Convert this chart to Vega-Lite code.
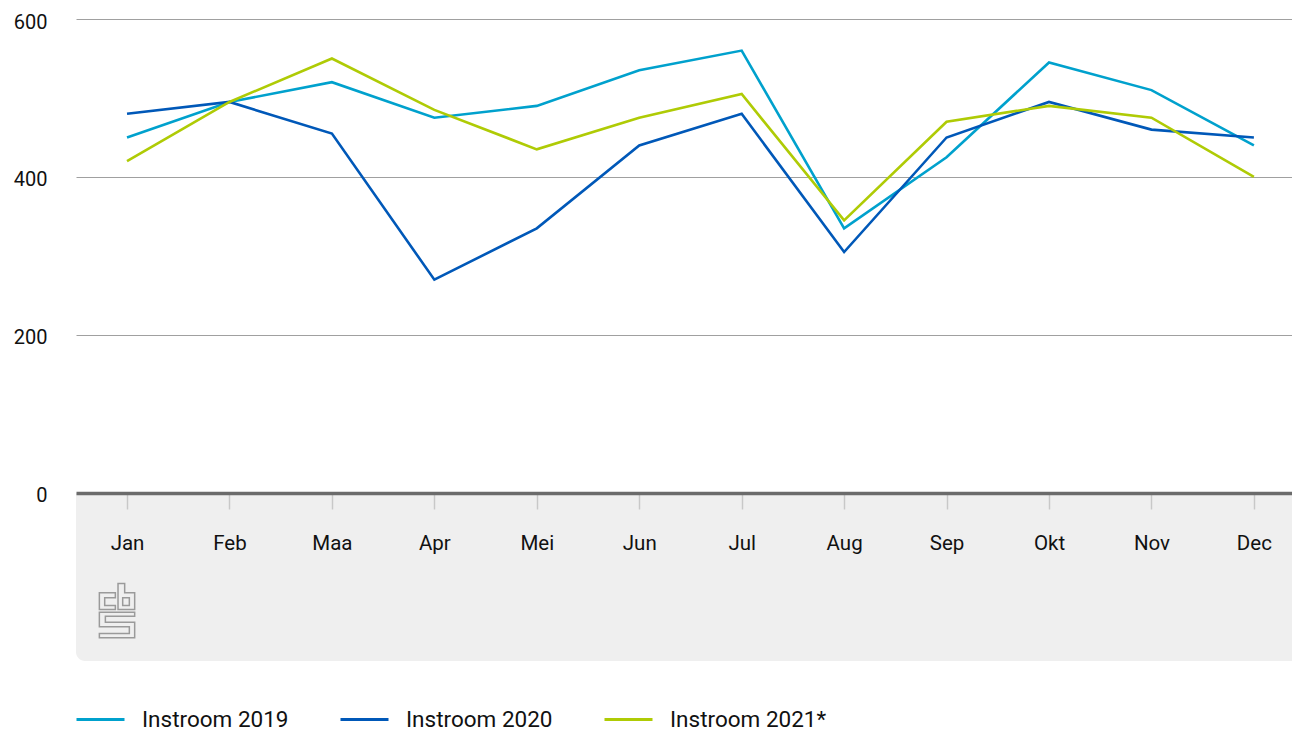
{
  "$schema": "https://vega.github.io/schema/vega-lite/v6.json",
  "width": 1216,
  "height": 642,
  "autosize": {"type": "none"},
  "padding": {"left": 76, "top": 19, "right": 0, "bottom": 71},
  "background": "white",
  "config": {
    "view": {"stroke": null},
    "font": "Roboto"
  },
  "datasets": {
    "instroom": [
      {"nr": 0, "maand": "Jan", "reeks": "Instroom 2019", "waarde": 450},
      {"nr": 1, "maand": "Feb", "reeks": "Instroom 2019", "waarde": 495},
      {"nr": 2, "maand": "Maa", "reeks": "Instroom 2019", "waarde": 520},
      {"nr": 3, "maand": "Apr", "reeks": "Instroom 2019", "waarde": 475},
      {"nr": 4, "maand": "Mei", "reeks": "Instroom 2019", "waarde": 490},
      {"nr": 5, "maand": "Jun", "reeks": "Instroom 2019", "waarde": 535},
      {"nr": 6, "maand": "Jul", "reeks": "Instroom 2019", "waarde": 560},
      {"nr": 7, "maand": "Aug", "reeks": "Instroom 2019", "waarde": 335},
      {"nr": 8, "maand": "Sep", "reeks": "Instroom 2019", "waarde": 425},
      {"nr": 9, "maand": "Okt", "reeks": "Instroom 2019", "waarde": 545},
      {"nr": 10, "maand": "Nov", "reeks": "Instroom 2019", "waarde": 510},
      {"nr": 11, "maand": "Dec", "reeks": "Instroom 2019", "waarde": 440},
      {"nr": 0, "maand": "Jan", "reeks": "Instroom 2020", "waarde": 480},
      {"nr": 1, "maand": "Feb", "reeks": "Instroom 2020", "waarde": 495},
      {"nr": 2, "maand": "Maa", "reeks": "Instroom 2020", "waarde": 455},
      {"nr": 3, "maand": "Apr", "reeks": "Instroom 2020", "waarde": 270},
      {"nr": 4, "maand": "Mei", "reeks": "Instroom 2020", "waarde": 335},
      {"nr": 5, "maand": "Jun", "reeks": "Instroom 2020", "waarde": 440},
      {"nr": 6, "maand": "Jul", "reeks": "Instroom 2020", "waarde": 480},
      {"nr": 7, "maand": "Aug", "reeks": "Instroom 2020", "waarde": 305},
      {"nr": 8, "maand": "Sep", "reeks": "Instroom 2020", "waarde": 450},
      {"nr": 9, "maand": "Okt", "reeks": "Instroom 2020", "waarde": 495},
      {"nr": 10, "maand": "Nov", "reeks": "Instroom 2020", "waarde": 460},
      {"nr": 11, "maand": "Dec", "reeks": "Instroom 2020", "waarde": 450},
      {"nr": 0, "maand": "Jan", "reeks": "Instroom 2021*", "waarde": 420},
      {"nr": 1, "maand": "Feb", "reeks": "Instroom 2021*", "waarde": 495},
      {"nr": 2, "maand": "Maa", "reeks": "Instroom 2021*", "waarde": 550},
      {"nr": 3, "maand": "Apr", "reeks": "Instroom 2021*", "waarde": 485},
      {"nr": 4, "maand": "Mei", "reeks": "Instroom 2021*", "waarde": 435},
      {"nr": 5, "maand": "Jun", "reeks": "Instroom 2021*", "waarde": 475},
      {"nr": 6, "maand": "Jul", "reeks": "Instroom 2021*", "waarde": 505},
      {"nr": 7, "maand": "Aug", "reeks": "Instroom 2021*", "waarde": 345},
      {"nr": 8, "maand": "Sep", "reeks": "Instroom 2021*", "waarde": 470},
      {"nr": 9, "maand": "Okt", "reeks": "Instroom 2021*", "waarde": 490},
      {"nr": 10, "maand": "Nov", "reeks": "Instroom 2021*", "waarde": 475},
      {"nr": 11, "maand": "Dec", "reeks": "Instroom 2021*", "waarde": 400}
    ]
  },
  "layer": [
    {
      "data": {"values": [{}]},
      "mark": {"type": "rect", "color": "#efefef", "cornerRadiusBottomLeft": 9},
      "encoding": {
        "y": {"datum": 0, "type": "quantitative"},
        "y2": {"datum": -212.7}
      }
    },
    {
      "data": {"values": [{}]},
      "mark": {
        "type": "point",
        "filled": false,
        "stroke": "#9a9a9a",
        "strokeWidth": 1.5,
        "size": 2950,
        "opacity": 1,
        "shape": "M-0.65,-0.656 L-0.061,-0.656 L-0.061,-0.472 L-0.454,-0.472 L-0.454,-0.19 L-0.061,-0.19 L-0.061,-0.043 L-0.65,-0.043 Z M0.037,-1 L0.282,-1 L0.282,-0.656 L0.65,-0.656 L0.65,-0.043 L0.037,-0.043 Z M0.209,-0.472 L0.454,-0.472 L0.454,-0.19 L0.209,-0.19 Z M-0.65,0.055 L0.65,0.055 L0.65,0.202 L-0.429,0.202 L-0.429,0.423 L0.65,0.423 L0.65,1 L-0.65,1 L-0.65,0.84 L0.454,0.84 L0.454,0.595 L-0.65,0.595 Z",
        "xOffset": -10
      },
      "encoding": {
        "x": {"datum": 0, "type": "quantitative"},
        "y": {"datum": -149, "type": "quantitative"}
      }
    },
    {
      "data": {"name": "instroom"},
      "mark": {"type": "line", "strokeWidth": 2.6, "strokeJoin": "miter"},
      "encoding": {
        "x": {
          "field": "nr",
          "type": "quantitative",
          "scale": {"domain": [-0.498, 11.372], "nice": false, "zero": false},
          "axis": {
            "title": null,
            "values": [0, 1, 2, 3, 4, 5, 6, 7, 8, 9, 10, 11],
            "labelExpr": "['Jan','Feb','Maa','Apr','Mei','Jun','Jul','Aug','Sep','Okt','Nov','Dec'][datum.value]",
            "offset": -168,
            "zindex": 1,
            "domain": true,
            "domainColor": "#6b6b6b",
            "domainWidth": 3.5,
            "ticks": true,
            "tickSize": 16,
            "tickColor": "#c8c8c8",
            "tickWidth": 1.5,
            "labelAngle": 0,
            "labelFontSize": 20.5,
            "labelColor": "#111111",
            "labelPadding": 24,
            "labelFlush": false,
            "labelOverlap": false,
            "grid": false
          }
        },
        "y": {
          "field": "waarde",
          "type": "quantitative",
          "scale": {"domain": [-212.7, 600], "nice": false, "zero": false},
          "axis": {
            "title": null,
            "values": [0, 200, 400, 600],
            "domain": false,
            "ticks": false,
            "tickSize": 0,
            "grid": true,
            "gridColor": "#a0a0a0",
            "gridWidth": 1,
            "labelFontSize": 20,
            "labelColor": "#111111",
            "labelPadding": 29,
            "labelOffset": 3
          }
        },
        "color": {
          "field": "reeks",
          "type": "nominal",
          "scale": {
            "domain": ["Instroom 2019", "Instroom 2020", "Instroom 2021*"],
            "range": ["#00a1cd", "#0058b8", "#afcb05"]
          },
          "legend": {
            "title": null,
            "orient": "none",
            "legendX": -1,
            "legendY": 675,
            "direction": "horizontal",
            "symbolType": "stroke",
            "symbolSize": 2304,
            "symbolStrokeWidth": 3,
            "labelFontSize": 22.5,
            "labelColor": "#111111",
            "labelOffset": 16,
            "columnPadding": 45
          }
        }
      }
    }
  ]
}
